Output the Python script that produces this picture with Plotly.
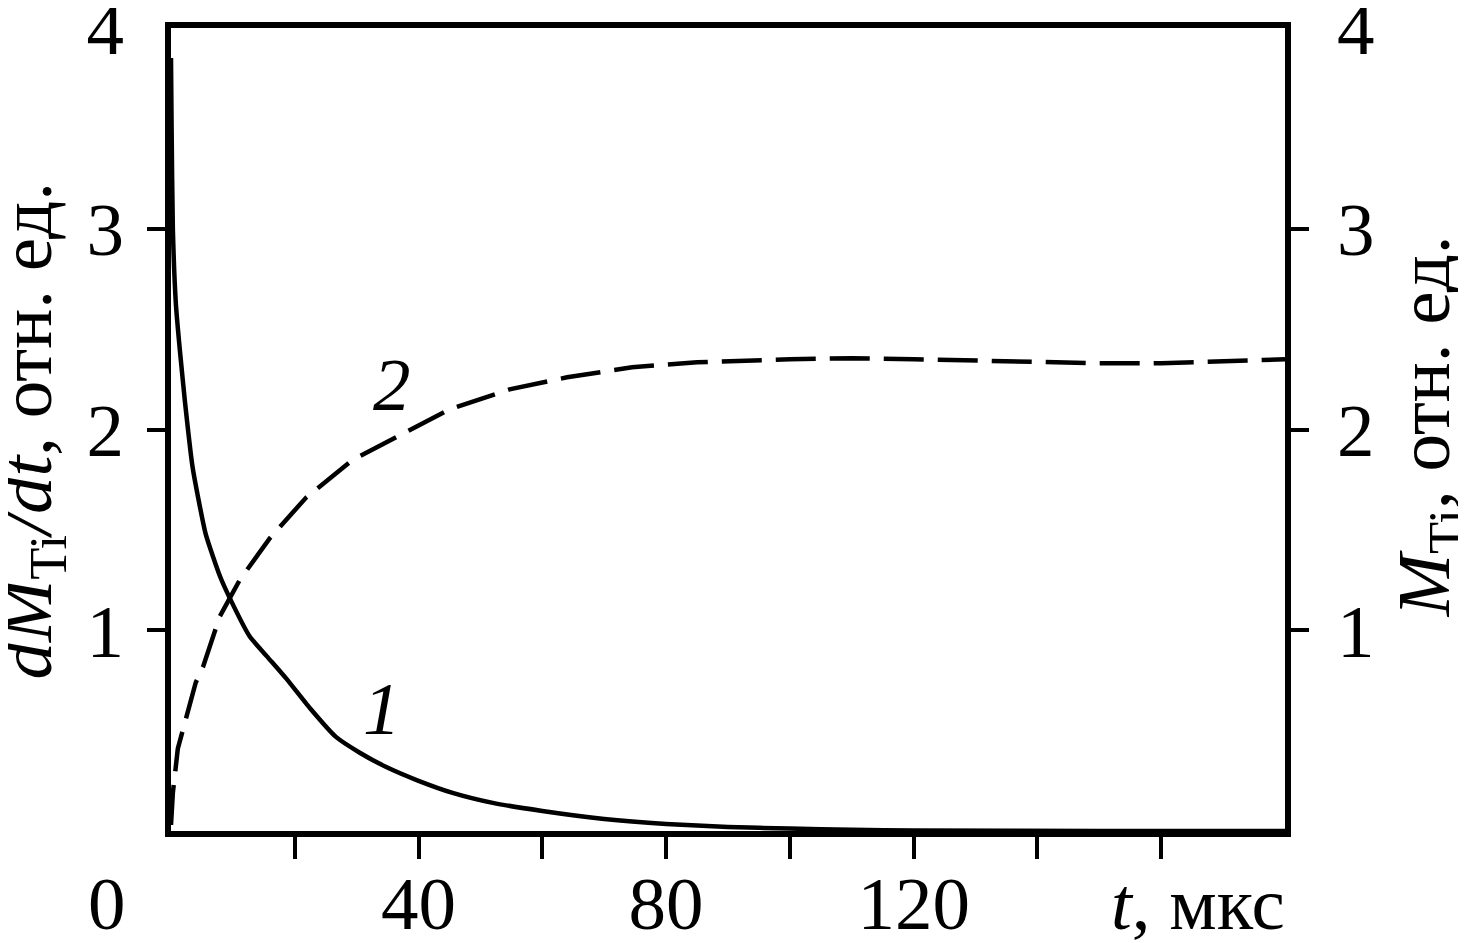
import plotly.graph_objects as go

# Curve 1: dM_Ti/dt (left axis)
t1 = [0, 0.1, 0.3, 0.8, 1.45, 2.25, 3.5, 5.6, 7.9, 9.5, 12.7, 15.5, 18.6, 22.5, 26.6, 30.5,
      34.7, 40, 45.5, 52, 60, 70, 80, 90, 100, 110, 120, 150, 180]
y1 = [3.85, 3.5, 3.0, 2.62, 2.39, 2.14, 1.81, 1.48, 1.27, 1.16, 0.97, 0.87, 0.76, 0.61, 0.47, 0.39,
      0.32, 0.25, 0.19, 0.14, 0.10, 0.06, 0.035, 0.02, 0.012, 0.006, 0.003, 0.0, 0.0]

# Curve 2: M_Ti (right axis)
t2 = [0, 0.3, 1.1, 2.2, 4.0, 5.2, 7.9, 9.5, 11.1, 16, 21.8, 29.4, 37.4, 45, 54.7, 64, 74.5,
      85, 100, 110, 120, 135, 150, 160, 170, 180]
y2 = [0.03, 0.19, 0.41, 0.54, 0.74, 0.82, 1.07, 1.16, 1.25, 1.46, 1.66, 1.85, 1.98, 2.10, 2.20,
      2.26, 2.31, 2.335, 2.35, 2.355, 2.35, 2.34, 2.33, 2.33, 2.34, 2.35]

x_major = [40, 80, 120]
x_major_text = ["40", "80", "120"]
x_minor = [20, 60, 100, 140, 160]
y_vals = [1, 2, 3, 4]
y_text = ["1", "2", "3", "4"]
y_minor = [1, 2, 3]

FONT = "Liberation Serif"
FS = 75

# plot area as seen on screen (used to place paper-referenced annotations)
PL, PW, PB, PH = 168.0, 1119.0, 832.0, 807.0


def px(xp):
    return (xp - PL) / PW


def py(yp):
    return (PB - yp) / PH


fig = go.Figure()
fig.add_trace(go.Scatter(x=t1, y=y1, mode="lines",
                         line=dict(color="black", width=4.5, shape="spline", smoothing=0.5),
                         showlegend=False, yaxis="y"))
fig.add_trace(go.Scatter(x=t2, y=y2, mode="lines",
                         line=dict(color="black", width=4.5, dash="40px,14px"),
                         showlegend=False, yaxis="y2"))

axis_common = dict(showline=True, linewidth=6, linecolor="black", showgrid=False,
                   zeroline=False, automargin=False, ticklabeloverflow="allow",
                   tickfont=dict(family=FONT, size=FS, color="black"))

fig.update_layout(
    width=1466, height=943,
    margin=dict(l=163, r=189, t=20, b=120, pad=0),
    paper_bgcolor="white", plot_bgcolor="white",
    font=dict(family=FONT, size=FS, color="black"),
    xaxis=dict(range=[0, 180], tickmode="array", tickvals=x_major, ticktext=x_major_text,
               ticks="outside", ticklen=22, tickwidth=4, tickcolor="black",
               minor=dict(tickmode="array", tickvals=x_minor, ticks="outside",
                          ticklen=22, tickwidth=4, tickcolor="black"),
               mirror=True, ticklabelstandoff=-20, **axis_common),
    yaxis=dict(range=[0, 4], tickmode="array", tickvals=y_vals, ticktext=y_text,
               ticks="", minor=dict(tickmode="array", tickvals=y_minor, ticks="outside",
                                    ticklen=18, tickwidth=4, tickcolor="black"),
               ticklabelstandoff=26, **axis_common),
    yaxis2=dict(range=[0, 4], overlaying="y", side="right", tickmode="array",
                tickvals=y_vals, ticktext=y_text, ticks="",
                minor=dict(tickmode="array", tickvals=y_minor, ticks="outside",
                           ticklen=18, tickwidth=4, tickcolor="black"),
                ticklabelstandoff=31, **axis_common),
)

ann_font = dict(family=FONT, size=FS, color="black")
fig.add_annotation(text="<i>dM</i><sub>Ti</sub><i>/dt</i>, отн. ед.", textangle=-90,
                   xref="paper", yref="paper", x=px(27), y=py(430),
                   xanchor="center", yanchor="middle", showarrow=False, font=ann_font)
fig.add_annotation(text="<i>M</i><sub>Ti</sub>, отн. ед.", textangle=-90,
                   xref="paper", yref="paper", x=px(1432), y=py(425),
                   xanchor="center", yanchor="middle", showarrow=False, font=ann_font)
fig.add_annotation(text="0", xref="paper", yref="paper", x=px(104), y=py(905),
                   xanchor="center", yanchor="middle", showarrow=False, font=ann_font)
fig.add_annotation(text="<i>t</i>, мкс", xref="paper", yref="paper", x=px(1289),
                   y=py(905), xanchor="right", yanchor="middle",
                   showarrow=False, font=ann_font)
fig.add_annotation(text="<i>1</i>", xref="x", yref="y", x=34.1, y=0.61,
                   showarrow=False, font=ann_font)
fig.add_annotation(text="<i>2</i>", xref="x", yref="y", x=35.7, y=2.225,
                   showarrow=False, font=ann_font)

fig.write_html("out.html")
